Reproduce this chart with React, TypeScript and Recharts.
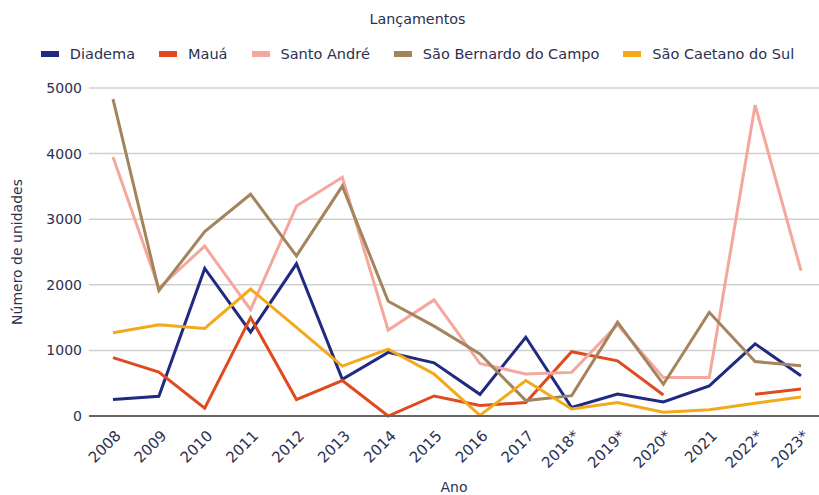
import { LineChart, Line, XAxis, YAxis, CartesianGrid } from "recharts";

const anos = ["2008", "2009", "2010", "2011", "2012", "2013", "2014", "2015", "2016", "2017", "2018*", "2019*", "2020*", "2021", "2022*", "2023*"];

const diadema = [250, 300, 2250, 1280, 2320, 560, 970, 810, 330, 1200, 130, 335, 215, 460, 1100, 615];
const maua = [890, 670, 120, 1500, 250, 540, 0, 305, 160, 205, 980, 840, 320, null, 330, 410];
const santoAndre = [3950, 1950, 2590, 1620, 3200, 3640, 1310, 1770, 800, 640, 665, 1390, 585, 585, 4740, 2215];
const saoBernardo = [4830, 1910, 2810, 3380, 2440, 3505, 1750, 1370, 945, 235, 310, 1430, 485, 1580, 830, 765];
const saoCaetano = [1270, 1390, 1335, 1935, 1350, 760, 1020, 640, 10, 540, 107, 205, 58, 95, 195, 290];

const yTicks = [0, 1000, 2000, 3000, 4000, 5000];

const series = [
  { key: "Diadema", values: diadema, color: "#1f2a80" },
  { key: "Mauá", values: maua, color: "#e04a1f" },
  { key: "Santo André", values: santoAndre, color: "#f4a79d" },
  { key: "São Bernardo do Campo", values: saoBernardo, color: "#a3845d" },
  { key: "São Caetano do Sul", values: saoCaetano, color: "#f2a91a" },
];

const data = anos.map((ano, i) => {
  const row: Record<string, string | number | null> = { ano };
  series.forEach((s) => {
    row[s.key] = s.values[i];
  });
  return row;
});

const font = "'DejaVu Sans', Verdana, sans-serif";
const textColor = "#2b3050";

if (typeof document !== "undefined") {
  document.body.style.margin = "0";
}

const XTick = (props: any) => {
  const { x, y, payload } = props;
  return (
    <g transform={`translate(${x + 5},${y + 9})`}>
      <text
        transform="rotate(-45)"
        textAnchor="end"
        dy="0.35em"
        fill={textColor}
        fontSize={15}
        fontFamily={font}
      >
        {payload.value}
      </text>
    </g>
  );
};

export default function App() {
  return (
    <div style={{ position: "relative", width: 819, height: 495, background: "#fff", fontFamily: font }}>
      <div
        style={{
          position: "absolute",
          top: 11,
          left: 0,
          width: 819,
          paddingLeft: 16,
          boxSizing: "border-box",
          textAlign: "center",
          fontSize: 14.3,
          color: textColor,
        }}
      >
        Lançamentos
      </div>
      <div
        style={{
          position: "absolute",
          top: 46,
          left: 0,
          width: 819,
          paddingLeft: 16,
          boxSizing: "border-box",
          display: "flex",
          justifyContent: "center",
          fontSize: 14.5,
          color: textColor,
        }}
      >
        {series.map((s, i) => (
          <div
            key={s.key}
            style={{ display: "flex", alignItems: "center", marginLeft: i === 0 ? 0 : 24 }}
          >
            <span style={{ display: "inline-block", width: 18, height: 6, background: s.color, marginRight: 11 }} />
            <span>{s.key}</span>
          </div>
        ))}
      </div>
      <LineChart
        width={819}
        height={495}
        data={data}
        margin={{ top: 88, right: 0, bottom: 0, left: 0 }}
      >
        <CartesianGrid vertical={false} stroke="#d0d0d0" strokeWidth={1.5} />
        <XAxis
          dataKey="ano"
          height={79}
          interval={0}
          tickLine={false}
          axisLine={{ stroke: "#666", strokeWidth: 2 }}
          padding={{ left: 24, right: 18 }}
          tick={<XTick />}
          label={{ value: "Ano", position: "insideBottom", offset: 3, fill: textColor, fontSize: 14, fontFamily: font }}
        />
        <YAxis
          width={89}
          domain={[0, 5000]}
          ticks={yTicks}
          tickLine={false}
          axisLine={false}
          tickSize={0}
          tickMargin={7}
          tick={{ fill: textColor, fontSize: 14, fontFamily: font }}
          label={{
            value: "Número de unidades",
            angle: -90,
            position: "insideLeft",
            offset: 17,
            style: { textAnchor: "middle" },
            fill: textColor,
            fontSize: 14,
            fontFamily: font,
          }}
        />
        {series.map((s) => (
          <Line
            key={s.key}
            type="linear"
            dataKey={s.key}
            stroke={s.color}
            strokeWidth={3}
            dot={false}
            activeDot={false}
            isAnimationActive={false}
          />
        ))}
      </LineChart>
    </div>
  );
}
